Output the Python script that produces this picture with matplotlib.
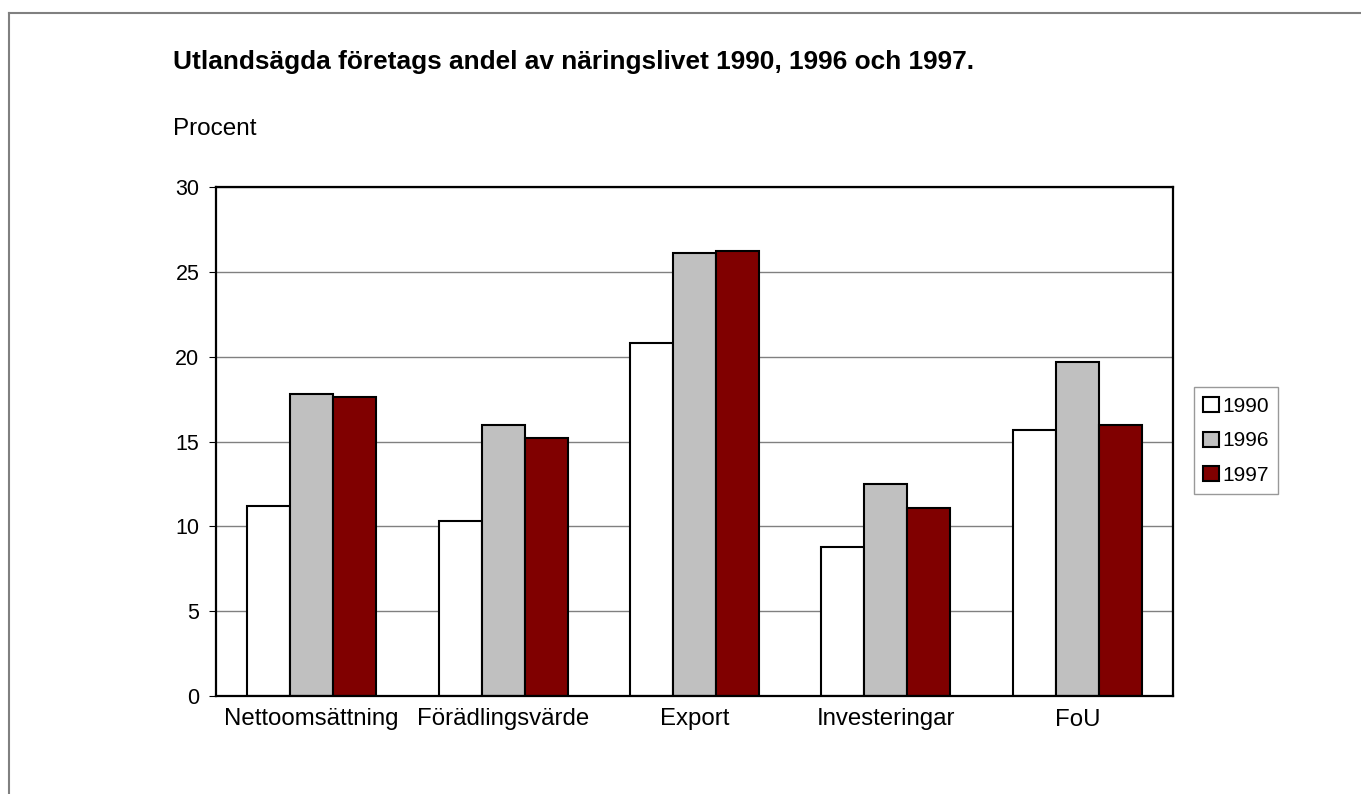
import matplotlib
matplotlib.use("Agg")
import matplotlib.pyplot as plt
from matplotlib.lines import Line2D
from matplotlib.patches import Patch
import numpy as np

plt.rcParams['font.family'] = ['Liberation Sans', 'DejaVu Sans']

categories = ["Nettoomsättning", "Förädlingsvärde", "Export", "Investeringar", "FoU"]
series_names = ["1990", "1996", "1997"]
v1990 = [11.2, 10.3, 20.8, 8.8, 15.7]
v1996 = [17.8, 16.0, 26.1, 12.5, 19.7]
v1997 = [17.6, 15.2, 26.2, 11.1, 16.0]
yticks = [0, 5, 10, 15, 20, 25, 30]
title = "Utlandsägda företags andel av näringslivet 1990, 1996 och 1997."
ylabel = "Procent"

colors = ["#FFFFFF", "#C0C0C0", "#800000"]

fig = plt.figure(figsize=(13.61, 7.94), dpi=100)
ax = fig.add_axes([216/1361, 1-696/794, (1173-216)/1361, (696-187)/794])

x = np.arange(len(categories))
w = 0.225
for i, (vals, c) in enumerate(zip([v1990, v1996, v1997], colors)):
    ax.bar(x + (i-1)*w, vals, width=w, color=c, edgecolor="black", linewidth=1.5,
           zorder=3, label=series_names[i])

ax.set_xlim(-0.5, len(categories)-0.5)
ax.set_ylim(0, 30)
ax.set_yticks(yticks)
ax.set_yticklabels([str(t) for t in yticks], fontsize=15.5)
ax.tick_params(axis='y', direction='out', length=5, width=0.8, color='black', pad=7)
ax.set_xticks(x)
ax.set_xticklabels(categories, fontsize=17.3)
ax.tick_params(axis='x', length=0, pad=9)
ax.yaxis.grid(True, color="#808080", linewidth=1.0, zorder=0)
ax.set_axisbelow(True)
for s in ax.spines.values():
    s.set_color("black")
    s.set_linewidth(1.6)
    s.set_zorder(4)

# figure frame
fig.add_artist(Line2D([9/1361, 1], [1-13/794, 1-13/794], transform=fig.transFigure,
                      color="#808080", linewidth=1.5))
fig.add_artist(Line2D([9/1361, 9/1361], [0, 1-13/794], transform=fig.transFigure,
                      color="#808080", linewidth=1.5))

fig.text(173/1361, 1-62/794, title, fontsize=18.9, fontweight='bold', va='center', ha='left')
fig.text(173/1361, 1-129/794, ylabel, fontsize=17.5, va='center', ha='left')

handles = [Patch(facecolor=c, edgecolor="black", linewidth=1.5) for c in colors]
leg = fig.legend(handles, series_names, loc='center left',
                 bbox_to_anchor=(1194/1361, 1-441/794), fontsize=15,
                 frameon=True, fancybox=False, edgecolor="#808080",
                 handlelength=0.75, handleheight=0.75, handletextpad=0.15,
                 labelspacing=0.75, borderpad=0.45, borderaxespad=0)
leg.get_frame().set_linewidth(1.0)

fig.savefig("out.png", dpi=100, facecolor="white")
